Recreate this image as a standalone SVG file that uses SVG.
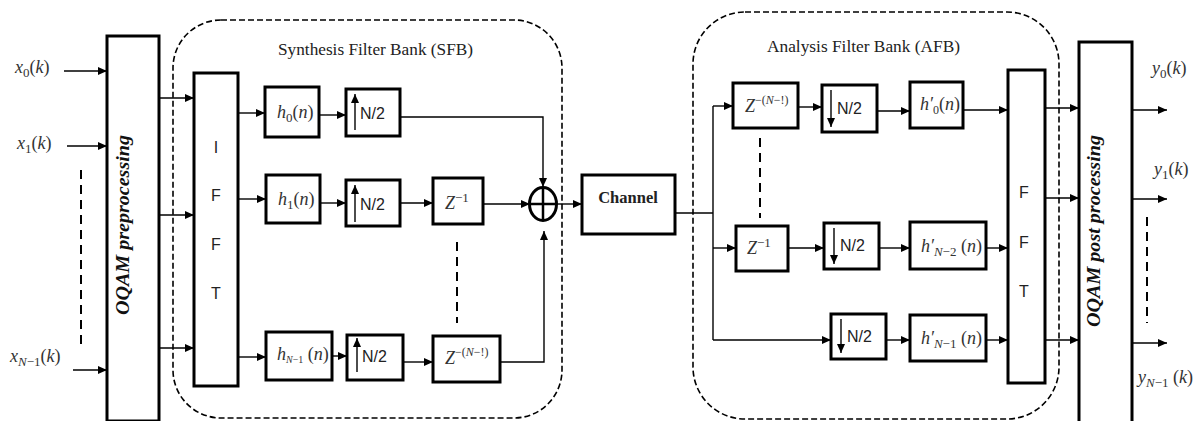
<svg xmlns="http://www.w3.org/2000/svg" width="1199" height="421" viewBox="0 0 1199 421">
<style>
.box{fill:#fff;stroke:#000;stroke-width:3}
.ln{fill:none;stroke:#000;stroke-width:1.4}
.arr{fill:none;stroke:#000;stroke-width:1.4;marker-end:url(#ah)}
.grp{fill:none;stroke:#000;stroke-width:1.6;stroke-dasharray:6 3}
.dots{fill:none;stroke:#000;stroke-width:2;stroke-dasharray:9 6}
.m{font-family:"Liberation Serif",serif;font-style:italic;font-size:18px;fill:#333}
.up{font-style:normal}
.sans{font-family:"Liberation Sans",Arial,sans-serif;font-size:16px;fill:#222}
.ttl{font-family:"Liberation Serif",serif;font-size:17px;fill:#222}
.rot{font-family:"Liberation Serif",serif;font-style:italic;font-weight:bold;font-size:18px;fill:#111}
</style>
<defs>
<marker id="ah" markerUnits="userSpaceOnUse" markerWidth="9" markerHeight="8" refX="9" refY="4" orient="auto">
<path d="M0,0 L9,4 L0,8 z" fill="#000"/>
</marker>
</defs>

<!-- group outlines -->
<g id="sfb-group">
<rect class="grp" x="173" y="20" width="389" height="398" rx="48" ry="48"/>
<text class="ttl" x="278" y="55" textLength="195" lengthAdjust="spacingAndGlyphs">Synthesis Filter Bank (SFB)</text>
</g>
<g id="afb-group">
<rect class="grp" x="693" y="12" width="366" height="407" rx="52" ry="52"/>
<text class="ttl" x="767" y="52" textLength="193" lengthAdjust="spacingAndGlyphs">Analysis Filter Bank (AFB)</text>
</g>

<!-- inputs -->
<g id="inputs">
<text class="m" x="15" y="73">x<tspan class="up" font-size="13" dy="4">0</tspan><tspan class="up" dy="-4">(</tspan>k<tspan class="up">)</tspan></text>
<text class="m" x="17" y="149">x<tspan class="up" font-size="13" dy="4">1</tspan><tspan class="up" dy="-4">(</tspan>k<tspan class="up">)</tspan></text>
<text class="m" x="10" y="362">x<tspan font-size="13" dy="4">N</tspan><tspan class="up" font-size="13">−1</tspan><tspan class="up" dy="-4">(</tspan>k<tspan class="up">)</tspan></text>
<line class="dots" x1="81" y1="170" x2="81" y2="345"/>
</g>

<g id="oqam-pre">
<rect class="box" x="107" y="36" width="52" height="385"/>
<text class="rot" transform="translate(129,225) rotate(-90)" text-anchor="middle" textLength="180" lengthAdjust="spacingAndGlyphs">OQAM preprocessing</text>
</g>

<g id="ifft">
<rect class="box" x="194" y="73" width="44" height="313"/>
<text class="sans" x="216" y="153" text-anchor="middle">I</text>
<text class="sans" x="216" y="201" text-anchor="middle">F</text>
<text class="sans" x="216" y="250" text-anchor="middle">F</text>
<text class="sans" x="216" y="299" text-anchor="middle">T</text>
</g>

<g id="h0">
<rect class="box" x="265" y="87" width="54" height="50"/>
<text class="m" x="277" y="118">h<tspan class="up" font-size="13" dy="4">0</tspan><tspan class="up" dy="-4">(</tspan>n<tspan class="up">)</tspan></text>
</g>
<g id="up0">
<rect class="box" x="346" y="89" width="54" height="47"/>
<line class="arr" x1="355" y1="130" x2="355" y2="94"/>
<text class="sans" x="360" y="119">N/2</text>
</g>

<g id="h1">
<rect class="box" x="266" y="175" width="54" height="48"/>
<text class="m" x="278" y="205">h<tspan class="up" font-size="13" dy="4">1</tspan><tspan class="up" dy="-4">(</tspan>n<tspan class="up">)</tspan></text>
</g>
<g id="up1">
<rect class="box" x="346" y="180" width="54" height="46"/>
<line class="arr" x1="355" y1="222" x2="355" y2="185"/>
<text class="sans" x="360" y="210">N/2</text>
</g>
<g id="z1">
<rect class="box" x="433" y="178" width="50" height="46"/>
<text class="m" x="445" y="209">Z<tspan class="up" font-size="13" dy="-7">−1</tspan></text>
</g>

<g id="hN1">
<rect class="box" x="266" y="332" width="66" height="48"/>
<text class="m" font-size="15" x="277" y="360">h<tspan font-size="10" dy="3">N</tspan><tspan class="up" font-size="10">−1</tspan><tspan class="up" dy="-3"> (</tspan>n<tspan class="up">)</tspan></text>
</g>
<g id="upN1">
<rect class="box" x="347" y="335" width="56" height="45"/>
<line class="arr" x1="357" y1="372" x2="357" y2="338"/>
<text class="sans" x="362" y="362">N/2</text>
</g>
<g id="zN1">
<rect class="box" x="433" y="336" width="67" height="46"/>
<text class="m" x="445" y="364">Z<tspan class="up" font-size="12" dy="-8">−(</tspan><tspan font-size="12">N</tspan><tspan class="up" font-size="12">−!)</tspan></text>
<line class="dots" x1="457" y1="242" x2="457" y2="323"/>
</g>

<g id="sum">
<ellipse cx="543" cy="204" rx="13.5" ry="16.5" fill="#fff" stroke="#000" stroke-width="3"/>
<line x1="543" y1="188" x2="543" y2="220" stroke="#000" stroke-width="2.5"/>
<line x1="530" y1="204" x2="556" y2="204" stroke="#000" stroke-width="2.5"/>
</g>

<g id="channel">
<rect class="box" x="582" y="175" width="93" height="59"/>
<text x="628" y="203" text-anchor="middle" font-family="Liberation Serif,serif" font-weight="bold" font-size="16.5" fill="#222">Channel</text>
</g>

<!-- AFB -->
<g id="a-zN1">
<rect class="box" x="733" y="83" width="65" height="45"/>
<text class="m" x="745" y="112">Z<tspan class="up" font-size="12" dy="-8">−(</tspan><tspan font-size="12">N</tspan><tspan class="up" font-size="12">−!)</tspan></text>
</g>
<g id="dn0">
<rect class="box" x="822" y="85" width="55" height="47"/>
<line class="arr" x1="831" y1="90" x2="831" y2="127"/>
<text class="sans" x="837" y="114">N/2</text>
</g>
<g id="hp0">
<rect class="box" x="910" y="82" width="53" height="46"/>
<text class="m" font-size="17" x="920" y="110">h′<tspan class="up" font-size="12" dy="4">0</tspan><tspan class="up" dy="-4">(</tspan>n<tspan class="up">)</tspan></text>
</g>

<line class="dots" x1="760" y1="138" x2="760" y2="218"/>

<g id="a-z1">
<rect class="box" x="736" y="226" width="52" height="45"/>
<text class="m" x="747" y="254">Z<tspan class="up" font-size="13" dy="-7">−1</tspan></text>
</g>
<g id="dn1">
<rect class="box" x="824" y="223" width="55" height="46"/>
<line class="arr" x1="834" y1="228" x2="834" y2="264"/>
<text class="sans" x="840" y="251">N/2</text>
</g>
<g id="hpN2">
<rect class="box" x="910" y="222" width="76" height="47"/>
<text class="m" x="921" y="252">h′<tspan font-size="13" dy="4">N</tspan><tspan class="up" font-size="13">−2</tspan><tspan class="up" dy="-4"> (</tspan>n<tspan class="up">)</tspan></text>
</g>

<g id="dn2">
<rect class="box" x="831" y="314" width="55" height="45"/>
<line class="arr" x1="841" y1="319" x2="841" y2="353"/>
<text class="sans" x="847" y="342">N/2</text>
</g>
<g id="hpN1">
<rect class="box" x="910" y="315" width="76" height="46"/>
<text class="m" x="921" y="344">h′<tspan font-size="13" dy="4">N</tspan><tspan class="up" font-size="13">−1</tspan><tspan class="up" dy="-4"> (</tspan>n<tspan class="up">)</tspan></text>
</g>

<g id="fft">
<rect class="box" x="1008" y="70" width="37" height="313"/>
<text class="sans" x="1024" y="198" text-anchor="middle">F</text>
<text class="sans" x="1024" y="248" text-anchor="middle">F</text>
<text class="sans" x="1024" y="297" text-anchor="middle">T</text>
</g>

<g id="oqam-post">
<rect class="box" x="1079" y="42" width="53" height="385"/>
<text class="rot" transform="translate(1100,231) rotate(-90)" text-anchor="middle" textLength="192" lengthAdjust="spacingAndGlyphs">OQAM post processing</text>
</g>

<g id="outputs">
<text class="m" x="1152" y="74">y<tspan class="up" font-size="13" dy="4">0</tspan><tspan class="up" dy="-4">(</tspan>k<tspan class="up">)</tspan></text>
<text class="m" x="1154" y="175">y<tspan class="up" font-size="13" dy="4">1</tspan><tspan class="up" dy="-4">(</tspan>k<tspan class="up">)</tspan></text>
<text class="m" x="1138" y="383">y<tspan font-size="13" dy="4">N</tspan><tspan class="up" font-size="13">−1</tspan><tspan class="up" dy="-4"> (</tspan>k<tspan class="up">)</tspan></text>
<line class="dots" x1="1147" y1="217" x2="1147" y2="323"/>
</g>

<g id="connectors">
<path class="arr" d="M64,71 H107"/>
<path class="arr" d="M67,146 H107"/>
<path class="arr" d="M73,370 H107"/>
<path class="arr" d="M159,98 H194"/>
<path class="arr" d="M159,215 H194"/>
<path class="arr" d="M159,348 H194"/>
<path class="arr" d="M238,113 H265"/>
<path class="arr" d="M238,199 H266"/>
<path class="arr" d="M238,357 H266"/>
<path class="arr" d="M319,115 H346"/>
<path class="arr" d="M400,117 H543 V187"/>
<path class="arr" d="M320,203 H346"/>
<path class="arr" d="M400,203 H433"/>
<path class="arr" d="M483,204 H530"/>
<path class="arr" d="M332,356 H347"/>
<path class="arr" d="M403,362 H433"/>
<path class="arr" d="M500,362 H544 V231"/>
<path class="arr" d="M557,204 H582"/>
<path class="ln" d="M675,213 H713"/>
<path class="ln" d="M713,106 V340"/>
<path class="arr" d="M713,106 H733"/>
<path class="arr" d="M713,248 H736"/>
<path class="arr" d="M713,340 H831"/>
<path class="arr" d="M798,107 H822"/>
<path class="arr" d="M877,111 H910"/>
<path class="arr" d="M963,110 H1008"/>
<path class="arr" d="M788,248 H824"/>
<path class="arr" d="M879,248 H910"/>
<path class="arr" d="M986,248 H1008"/>
<path class="arr" d="M886,340 H910"/>
<path class="arr" d="M986,340 H1008"/>
<path class="arr" d="M1045,108 H1079"/>
<path class="arr" d="M1045,198 H1079"/>
<path class="arr" d="M1045,340 H1079"/>
<path class="arr" d="M1132,110 H1167"/>
<path class="arr" d="M1132,199 H1167"/>
<path class="arr" d="M1132,343 H1167"/>
</g>
</svg>
